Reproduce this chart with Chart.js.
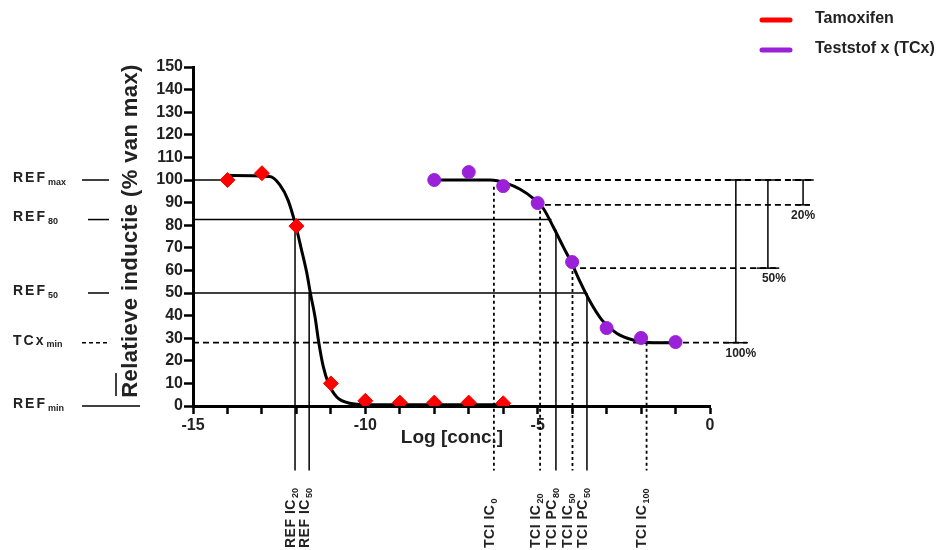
<!DOCTYPE html>
<html>
<head>
<meta charset="utf-8">
<script src="https://cdn.jsdelivr.net/npm/chart.js@4.4.1/dist/chart.umd.min.js"></script>
<style>
  html, body { margin: 0; padding: 0; background: #fff; }
  #wrap { width: 951px; height: 550px; }
</style>
</head>
<body>
<div id="wrap"><canvas id="doseChart" width="951" height="550"></canvas></div>
<script>
// ---- values ----
const seriesNames = ['Tamoxifen', 'Teststof x (TCx)'];

const tamoxLogConc = [-14, -13, -12, -11, -10, -9, -8, -7, -6];
const tamoxResponse = [100, 103, 79.6, 10, 2.3, 1.5, 1.5, 1.5, 1.2];

const tcxLogConc = [-8, -7, -6, -5, -4, -3, -2, -1];
const tcxResponse = [100, 103.5, 97.3, 89.8, 63.7, 34.5, 30.1, 28.3];

// fitted curves, sampled along the drawn line
const tamoxFitX = [-14.02, -12.77, -12.48, -12.24, -12.04, -11.85, -11.7, -11.59, -11.46, -11.36, -11.22, -11.07, -10.83, -10.45, -9.96, -5.9];
const tamoxFitY = [102, 101.5, 97.8, 91, 81, 69, 59, 49.6, 39.5, 29, 17.4, 10, 4, 1.2, 0.6, 0.5];
const tcxFitX = [-7.98, -6.38, -5.9, -5.51, -5.13, -4.84, -4.55, -4.26, -4.01, -3.77, -3.48, -3.14, -2.71, -2.23, -1.65, -0.97];
const tcxFitY = [100, 100, 98.5, 95.9, 91.9, 87.5, 79.3, 70.5, 63.1, 55, 46.2, 38.1, 32.2, 29.2, 28, 28];

// reference levels (solid) and test compound levels (dashed)
const refLevelY = [100, 82.5, 50];
const refLevelEndX = [-14, -4.6, -3.57];
const tcxLevelY = [100, 89, 61, 28];
const tcxLevelFromX = [-5.66, -4.79, -3.77, -15];
const tcxLevelToX = [3.0, 2.9, 1.97, 1.07];

// vertical markers down to the labels below the axis
const markerNames = [['REF IC', '20'], ['REF IC', '50'], ['TCI IC', '0'], ['TCI IC', '20'], ['TCI PC', '80'], ['TCI IC', '50'], ['TCI PC', '50'], ['TCI IC', '100']];
const markerX = [-12.04, -11.63, -6.27, -4.93, -4.47, -3.99, -3.57, -1.84];
const markerTopY = [79.6, 50, 97, 89, 78, 62.4, 50, 28];

// labels left of the y axis
const sideNames = [['REF', 'max'], ['REF', '80'], ['REF', '50'], ['TCx', 'min'], ['REF', 'min']];
const sideY = [100, 82.5, 50, 28, 0];

// percentage spans on the right
const spanLabels = ['100%', '50%', '20%'];
const spanX = [0.75, 1.68, 2.7];
const spanTopY = [100, 100, 100];
const spanBottomY = [28, 61, 89];

// ---- helpers ----
const pts = (xs, ys) => xs.map((x, i) => ({ x, y: ys[i] }));

function seg(x1, y1, x2, y2, dash, width) {
  return {
    data: [{ x: x1, y: y1 }, { x: x2, y: y2 }],
    showLine: true,
    borderColor: '#000',
    borderWidth: width || 1.5,
    borderDash: dash || [],
    pointRadius: 0,
    pointHoverRadius: 0,
    clip: false,
    fill: false
  };
}

const RED = '#ff0000';
const PURPLE = '#9b21d8';
const BOTTOM_Y = -28.5;
const FONT = 'Arial, "Liberation Sans", sans-serif';

const datasets = [
  {
    label: seriesNames[0], data: pts(tamoxLogConc, tamoxResponse),
    pointStyle: 'rectRot', pointRadius: 7.5, backgroundColor: RED, borderColor: RED, borderWidth: 1
  },
  {
    label: seriesNames[1], data: pts(tcxLogConc, tcxResponse),
    pointStyle: 'circle', pointRadius: 6.5, backgroundColor: PURPLE, borderColor: PURPLE, borderWidth: 1
  },
  {
    data: pts(tamoxFitX, tamoxFitY), showLine: true, borderColor: '#000', borderWidth: 3,
    pointRadius: 0, cubicInterpolationMode: 'monotone', clip: false
  },
  {
    data: pts(tcxFitX, tcxFitY), showLine: true, borderColor: '#000', borderWidth: 3,
    pointRadius: 0, cubicInterpolationMode: 'monotone', clip: false
  }
];

refLevelY.forEach((y, i) => datasets.push(seg(-15, y, refLevelEndX[i], y, [], 1.5)));
tcxLevelY.forEach((y, i) => datasets.push(seg(tcxLevelFromX[i], y, tcxLevelToX[i], y, [6, 4], 1.8)));

markerX.forEach((x, i) => {
  const solid = markerNames[i][0].startsWith('REF') || markerNames[i][0].includes('PC');
  datasets.push(seg(x, markerTopY[i], x, BOTTOM_Y, solid ? [] : [3, 3], solid ? 1.5 : 1.8));
});

// span brackets: vertical + caps
const capTop = [0.32, 0.29, 0.31];
const capBottom = [0.35, 0.33, 0.19];
spanX.forEach((x, i) => {
  datasets.push(seg(x, spanTopY[i], x, spanBottomY[i], [], 1.5));
  datasets.push(seg(x - capTop[i], spanTopY[i], x + capTop[i], spanTopY[i], [], 1.5));
  datasets.push(seg(x - capBottom[i], spanBottomY[i], x + capBottom[i], spanBottomY[i], [], 1.5));
});

// text with a subscript
function subText(ctx, x, y, main, sub, size, spacing) {
  ctx.letterSpacing = (spacing || 0) + 'px';
  ctx.font = `bold ${size}px ${FONT}`;
  ctx.fillText(main, x, y);
  const w = ctx.measureText(main).width;
  ctx.letterSpacing = '0px';
  ctx.font = `bold ${Math.round(size * 0.62)}px ${FONT}`;
  ctx.fillText(sub, x + w + 1, y + size * 0.3);
}

const annotations = {
  id: 'annotations',
  afterDraw(chart) {
    const { ctx, scales: { x: xs, y: ys } } = chart;
    ctx.save();
    ctx.fillStyle = '#222';
    ctx.strokeStyle = '#000';
    ctx.textBaseline = 'middle';

    // y title
    ctx.save();
    ctx.translate(131, 231);
    ctx.rotate(-Math.PI / 2);
    ctx.textAlign = 'center';
    ctx.letterSpacing = '0.4px';
    ctx.font = `bold 22px ${FONT}`;
    ctx.fillText('Relatieve inductie (% van max)', 0, 0);
    ctx.letterSpacing = '0px';
    ctx.restore();

    // x title
    ctx.textAlign = 'center';
    ctx.font = `bold 19px ${FONT}`;
    ctx.fillText('Log [conc.]', 452, 438);

    // left labels with short key lines
    ctx.textAlign = 'left';
    sideNames.forEach((n, i) => {
      const py = ys.getPixelForValue(sideY[i]);
      subText(ctx, 13, py - 2, n[0], n[1], 14, 2);
      ctx.beginPath();
      ctx.lineWidth = 1.5;
      const dashed = n[0] === 'TCx';
      ctx.setLineDash(dashed ? [4, 3] : []);
      const x0 = i === 1 || i === 2 ? 88 : 82;
      const x1 = i === 4 ? 140 : 109;
      ctx.moveTo(x0, py);
      ctx.lineTo(x1, py);
      ctx.stroke();
    });
    ctx.setLineDash([]);
    ctx.beginPath();
    ctx.moveTo(116, 373);
    ctx.lineTo(116, 396);
    ctx.stroke();

    // rotated labels under the markers
    markerNames.forEach((n, i) => {
      const px = xs.getPixelForValue(markerX[i]);
      ctx.save();
      ctx.translate(px - 4, 548);
      ctx.rotate(-Math.PI / 2);
      ctx.textAlign = 'left';
      subText(ctx, 0, 0, n[0], n[1], 14, 0.5);
      ctx.restore();
    });

    // span percentages
    ctx.textAlign = 'center';
    ctx.font = `bold 12px ${FONT}`;
    const spanShift = [5, 6, 0];
    spanLabels.forEach((t, i) => {
      const px = xs.getPixelForValue(spanX[i]) + spanShift[i];
      const py = ys.getPixelForValue(spanBottomY[i]) + 11;
      ctx.fillText(t, px, py);
    });

    // legend
    const colors = [RED, PURPLE];
    seriesNames.forEach((name, i) => {
      const ly = 20 + i * 30;
      ctx.beginPath();
      ctx.lineCap = 'round';
      ctx.lineWidth = 5;
      ctx.strokeStyle = colors[i];
      ctx.moveTo(762, ly);
      ctx.lineTo(790, ly);
      ctx.stroke();
      ctx.textAlign = 'left';
      ctx.fillStyle = '#222';
      ctx.font = `bold 16px ${FONT}`;
      ctx.fillText(name, 815, ly - 1);
    });
    ctx.restore();
  }
};

const tickFont = { family: FONT, size: 16, weight: 'bold' };

new Chart(document.getElementById('doseChart'), {
  type: 'scatter',
  data: { datasets },
  options: {
    responsive: false,
    animation: false,
    events: [],
    layout: { padding: { left: 0, top: 67, right: 241, bottom: 0 } },
    plugins: { legend: { display: false }, tooltip: { enabled: false } },
    scales: {
      x: {
        type: 'linear', min: -15, max: 0,
        afterFit: (s) => { s.height = 144; },
        border: { display: true, color: '#000', width: 3 },
        grid: { drawOnChartArea: false, drawTicks: true, tickLength: 8, tickColor: '#000', tickWidth: 2.5 },
        ticks: {
          stepSize: 1, autoSkip: false, maxRotation: 0, padding: 2,
          color: '#222', font: tickFont,
          callback: (v) => (v % 5 === 0 ? v : '')
        }
      },
      y: {
        type: 'linear', min: 0, max: 150,
        afterFit: (s) => { s.width = 193; },
        border: { display: true, color: '#000', width: 3 },
        grid: { drawOnChartArea: false, drawTicks: true, tickLength: 9, tickColor: '#000', tickWidth: 2.5 },
        ticks: { stepSize: 10, autoSkip: false, padding: 1, color: '#222', font: tickFont }
      }
    }
  },
  plugins: [annotations]
});
</script>
</body>
</html>
